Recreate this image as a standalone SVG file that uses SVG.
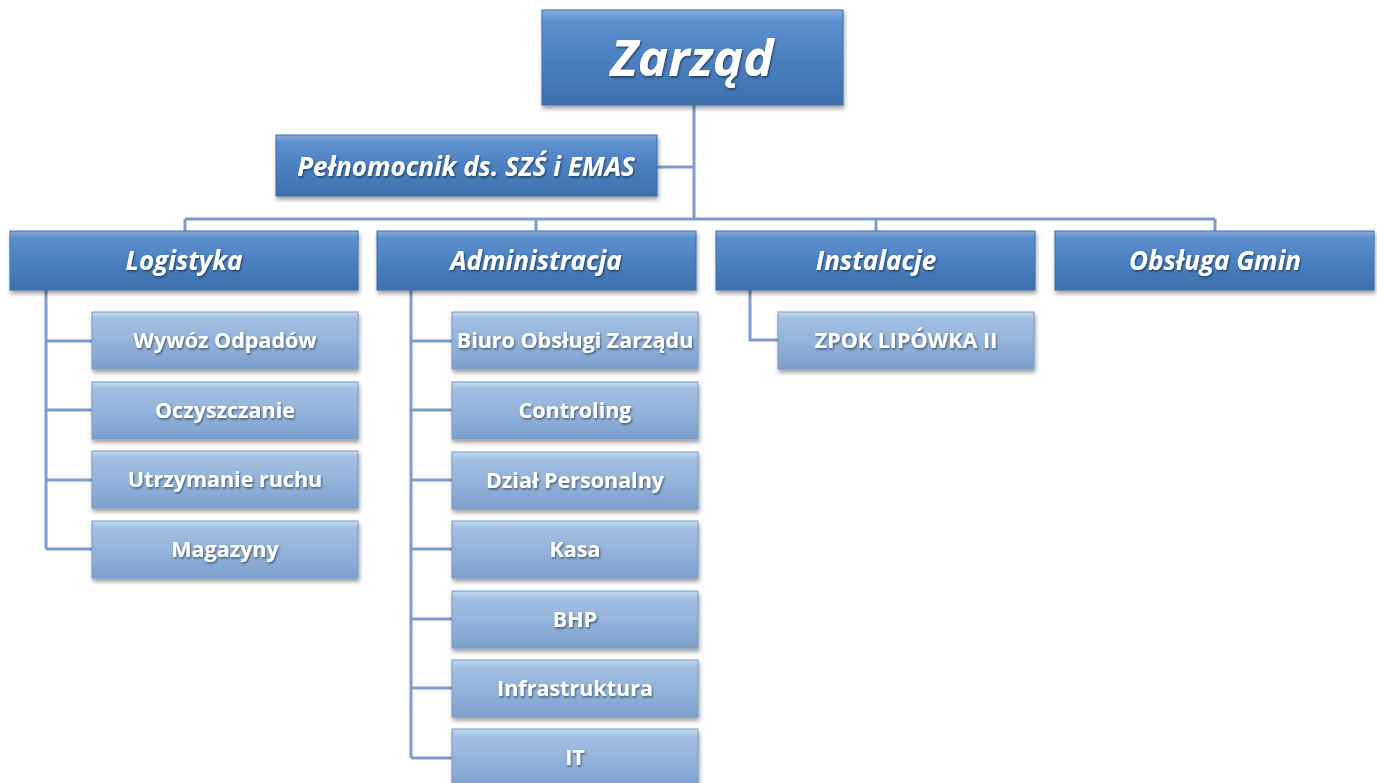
<svg xmlns="http://www.w3.org/2000/svg" width="1377" height="783" viewBox="0 0 1377 783">
<style>
.top{fill:url(#gTop);stroke:#3d6ea8;stroke-width:1;filter:url(#sh)}
.sub{fill:url(#gSub);stroke:#7b9cc4;stroke-width:1;filter:url(#sh)}
.tt{font-family:"Open Sans",Lato,sans-serif;font-weight:bold;font-style:italic;fill:#fff;text-anchor:middle;filter:url(#tsh)}
.st{font-family:"Open Sans",Lato,sans-serif;font-weight:bold;fill:#fff;text-anchor:middle;font-size:21.5px;filter:url(#tsh)}
.ln{fill:none;stroke:#7f9ccb;stroke-width:3}
</style>
<defs>
<linearGradient id="gTop" x1="0" y1="0" x2="0" y2="1">
<stop offset="0" stop-color="#86aee0"/>
<stop offset="0.12" stop-color="#5e8fcd"/>
<stop offset="0.55" stop-color="#4a7fc0"/>
<stop offset="1" stop-color="#3e6faa"/>
</linearGradient>
<linearGradient id="gSub" x1="0" y1="0" x2="0" y2="1">
<stop offset="0" stop-color="#c6daf0"/>
<stop offset="0.12" stop-color="#a3c0e3"/>
<stop offset="0.55" stop-color="#91b2da"/>
<stop offset="1" stop-color="#7b9fcc"/>
</linearGradient>
<filter id="sh" x="-10%" y="-20%" width="120%" height="150%">
<feDropShadow dx="1" dy="3" stdDeviation="2" flood-color="#000" flood-opacity="0.4"/>
</filter>
<filter id="tsh" x="-10%" y="-20%" width="120%" height="150%">
<feDropShadow dx="1" dy="1.5" stdDeviation="1" flood-color="#000" flood-opacity="0.5"/>
</filter>
</defs>
<rect width="1377" height="783" fill="#fff"/>
<g id="connectors">
<path class="ln" d="M694 105 V219 M657 167 H694 M185 219 H1215 M185 219 V231 M536 219 V231 M876 219 V231 M1215 219 V231"/>
<path class="ln" d="M46 290 V549 M46 341 H92 M46 410 H92 M46 480 H92 M46 549 H92"/>
<path class="ln" d="M411 290 V758 M411 341 H452 M411 410 H452 M411 480 H452 M411 549 H452 M411 619 H452 M411 688 H452 M411 758 H452"/>
<path class="ln" d="M750 290 V340 H778"/>
</g>
<g id="zarzad"><rect class="top" x="542" y="10" width="301" height="95"/><text class="tt" x="692" y="76" font-size="51">Zarząd</text></g>
<g id="pelnomocnik"><rect class="top" x="276" y="135" width="381" height="61"/><text class="tt" x="466" y="176" font-size="26">Pełnomocnik ds. SZŚ i EMAS</text></g>
<g id="logistyka"><rect class="top" x="10" y="231" width="348" height="59"/><text class="tt" x="184" y="270" font-size="26">Logistyka</text></g>
<g id="administracja"><rect class="top" x="377" y="231" width="319" height="59"/><text class="tt" x="536" y="270" font-size="26">Administracja</text></g>
<g id="instalacje"><rect class="top" x="716" y="231" width="319" height="59"/><text class="tt" x="876" y="270" font-size="26">Instalacje</text></g>
<g id="obsluga"><rect class="top" x="1055" y="231" width="319" height="59"/><text class="tt" x="1215" y="270" font-size="26">Obsługa Gmin</text></g>
<g id="wywoz"><rect class="sub" x="92" y="312" width="266" height="57"/><text class="st" x="225" y="348">Wywóz Odpadów</text></g>
<g id="oczyszczanie"><rect class="sub" x="92" y="382" width="266" height="57"/><text class="st" x="225" y="418">Oczyszczanie</text></g>
<g id="utrzymanie"><rect class="sub" x="92" y="451" width="266" height="57"/><text class="st" x="225" y="487">Utrzymanie ruchu</text></g>
<g id="magazyny"><rect class="sub" x="92" y="521" width="266" height="57"/><text class="st" x="225" y="557">Magazyny</text></g>
<g id="biuro"><rect class="sub" x="452" y="312" width="246" height="57"/><text class="st" x="575" y="348">Biuro Obsługi Zarządu</text></g>
<g id="controling"><rect class="sub" x="452" y="382" width="246" height="57"/><text class="st" x="575" y="418">Controling</text></g>
<g id="personalny"><rect class="sub" x="452" y="452" width="246" height="57"/><text class="st" x="575" y="488">Dział Personalny</text></g>
<g id="kasa"><rect class="sub" x="452" y="521" width="246" height="57"/><text class="st" x="575" y="557">Kasa</text></g>
<g id="bhp"><rect class="sub" x="452" y="591" width="246" height="57"/><text class="st" x="575" y="627">BHP</text></g>
<g id="infrastruktura"><rect class="sub" x="452" y="660" width="246" height="57"/><text class="st" x="575" y="696">Infrastruktura</text></g>
<g id="it"><rect class="sub" x="452" y="729" width="246" height="60"/><text class="st" x="575" y="765">IT</text></g>
<g id="zpok"><rect class="sub" x="778" y="312" width="256" height="57"/><text class="st" x="906" y="348">ZPOK LIPÓWKA II</text></g>
</svg>
